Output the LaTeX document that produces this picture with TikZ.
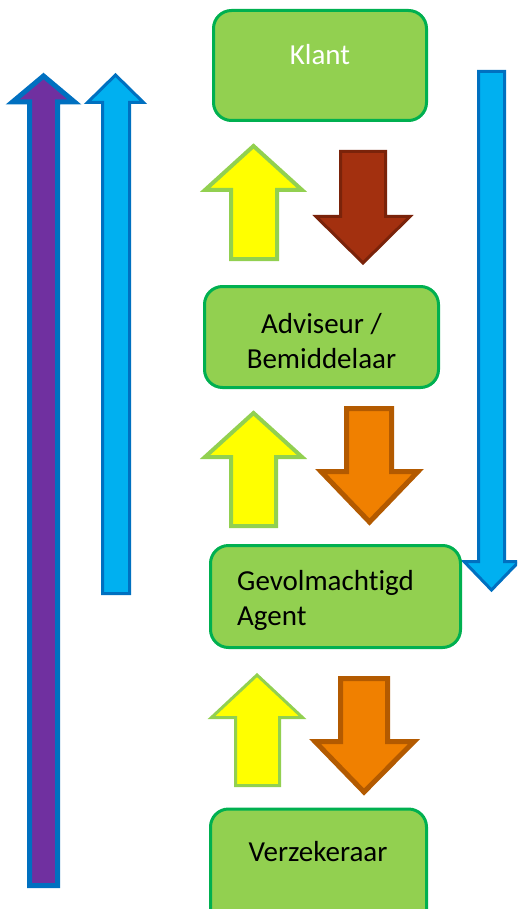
\documentclass[tikz,border=0pt]{standalone}
\usepackage{fontspec}
\setmainfont{Carlito}[Ligatures={NoCommon}]
\definecolor{boxfill}{HTML}{92D050}
\definecolor{boxline}{HTML}{00B050}
\definecolor{ylw}{HTML}{FFFF00}
\definecolor{ylwline}{HTML}{92D050}
\definecolor{brn}{HTML}{A3300F}
\definecolor{brnline}{HTML}{7A230A}
\definecolor{org}{HTML}{F08000}
\definecolor{orgline}{HTML}{B35A00}
\definecolor{lblue}{HTML}{00B0F0}
\definecolor{dblue}{HTML}{0070C0}
\definecolor{prp}{HTML}{7030A0}
\tikzset{
  actor/.style={draw=boxline, fill=boxfill, line width=3pt, rounded corners=18pt, inner sep=0pt},
  lbl/.style={inner sep=0pt, font=\fontsize{29}{35}\selectfont},
  uparrow/.style={fill=ylw, draw=ylwline, line join=miter},
}
\begin{document}
\begin{tikzpicture}[x=1pt,y=-1pt]
\useasboundingbox (0,0) rectangle (517,909);
\clip (0,0) rectangle (517,909);
% long arrows
\draw[fill=prp, draw=dblue, line width=5pt, line join=miter]
  (43.5,76) -- (74.5,102) -- (57.5,102) -- (57.5,885.5) -- (29.5,885.5) -- (29.5,102) -- (12.5,102) -- cycle;
\draw[fill=lblue, draw=dblue, line width=3pt, line join=miter]
  (115.5,75) -- (143.5,102.5) -- (129.5,102.5) -- (129.5,593.5) -- (102.5,593.5) -- (102.5,102.5) -- (87.5,102.5) -- cycle;
\draw[fill=lblue, draw=dblue, line width=3pt, line join=miter]
  (478.5,71.5) -- (504.5,71.5) -- (504.5,561.5) -- (519,561.5) -- (491.5,590) -- (464,561.5) -- (478.5,561.5) -- cycle;
% boxes
\node[actor, minimum width=213pt, minimum height=110pt] (klant) at (320,65.5) {};
\node[lbl, text=white] (klanttxt) at (320,55) {Klant};
\node[actor, minimum width=234pt, minimum height=101pt] (adv) at (321.5,337) {};
\node[lbl, align=center] (advtxt) at (321.5,341) {Adviseur /\\Bemiddelaar};
\node[actor, minimum width=250pt, minimum height=102pt] (gev) at (335.5,596.5) {};
\node[lbl, align=left, anchor=west] (gevtxt) at (237,600) {Gevolmachtigd\\Agent};
\node[actor, minimum width=216pt, minimum height=130pt] (verz) at (318.5,874) {};
\node[lbl] (verztxt) at (318,852) {Verzekeraar};
% yellow up arrows
\draw[uparrow, line width=4pt]
  (253.5,146) -- (302,190) -- (277,190) -- (277,259) -- (231,259) -- (231,190) -- (205,190) -- cycle;
\draw[uparrow, line width=4pt]
  (253.5,413) -- (302,457) -- (276,457) -- (276,526) -- (231,526) -- (231,457) -- (205,457) -- cycle;
\draw[uparrow, line width=3pt]
  (257,675) -- (302.5,717.5) -- (279.5,717.5) -- (279.5,785.5) -- (235.5,785.5) -- (235.5,717.5) -- (211.5,717.5) -- cycle;
% down arrows
\draw[fill=brn, draw=brnline, line width=3pt, line join=miter]
  (340.5,151.5) -- (385.5,151.5) -- (385.5,216.5) -- (410,216.5) -- (363,263) -- (316,216.5) -- (340.5,216.5) -- cycle;
\draw[fill=org, draw=orgline, line width=5pt, line join=miter]
  (346.5,408.5) -- (391.5,408.5) -- (391.5,471.5) -- (418,471.5) -- (369.5,522) -- (321,471.5) -- (346.5,471.5) -- cycle;
\draw[fill=org, draw=orgline, line width=5pt, line join=miter]
  (340.5,678.5) -- (387.5,678.5) -- (387.5,741.5) -- (414,741.5) -- (364,792) -- (315,741.5) -- (340.5,741.5) -- cycle;
\end{tikzpicture}
\end{document}
